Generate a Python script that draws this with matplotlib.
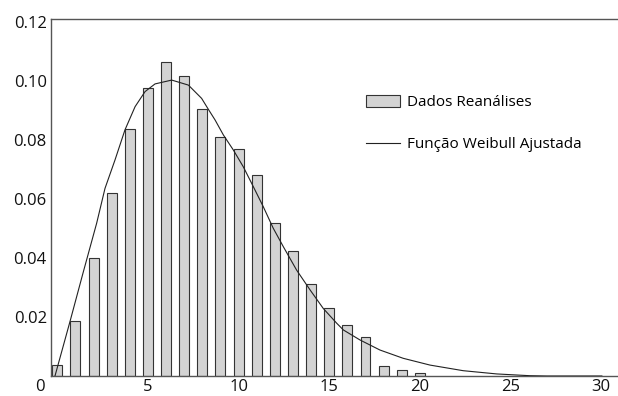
import numpy as np
import matplotlib
matplotlib.use('Agg')
import matplotlib.pyplot as plt
from matplotlib.transforms import ScaledTranslation

plt.rcParams['font.family'] = ['Open Sans', 'DejaVu Sans']

# histograma (dados de reanálise)
classes = np.arange(0, 21)
freq = [0.0037, 0.0186, 0.0400, 0.0620, 0.0836, 0.0975, 0.1065, 0.1017,
        0.0905, 0.0809, 0.0768, 0.0681, 0.0518, 0.0425, 0.0311, 0.0229,
        0.0174, 0.0132, 0.0035, 0.0020, 0.0010]

# curva Weibull ajustada
curva_x = [-0.13, 0.70, 1.43, 2.17, 2.63, 3.18, 3.73, 4.29, 4.84, 5.39,
           6.31, 7.23, 7.96, 8.33, 8.70, 9.16, 9.71, 10.26, 10.81, 11.36,
           11.91, 12.47, 13.20, 13.94, 14.67, 15.41, 15.78, 16.70, 17.80,
           19.08, 20.56, 22.39, 24.24, 26.07, 27.00, 30.04]
curva_y = [0.0, 0.0185, 0.0352, 0.0518, 0.0636, 0.0732, 0.0834, 0.0913,
           0.0964, 0.0990, 0.1003, 0.0986, 0.0941, 0.0904, 0.0868, 0.0817,
           0.0766, 0.0709, 0.0642, 0.0574, 0.0501, 0.0438, 0.0359, 0.0292,
           0.0229, 0.0179, 0.0156, 0.0122, 0.0088, 0.0060, 0.0037, 0.0018,
           0.0007, 0.0001, 0.0, 0.0]

fig = plt.figure(figsize=(6.18, 3.96), dpi=100)
ax = fig.add_axes([0.0825, 0.0505, 0.9175, 0.9015])

barras = ax.bar(classes, freq, width=0.55, color='#d3d3d3', edgecolor='#333333',
                linewidth=0.8, label='Dados Reanálises', zorder=2)
linha, = ax.plot(curva_x, curva_y, color='#222222', linewidth=0.8,
                 solid_joinstyle='round', label='Função Weibull Ajustada', zorder=3)

ax.set_xlim(-0.35, 30.93)
ax.set_ylim(0, 0.121)
ax.set_xticks([0, 5, 10, 15, 20, 25, 30])
ax.set_yticks([0.02, 0.04, 0.06, 0.08, 0.10, 0.12])
ax.set_yticklabels(['0.02', '0.04', '0.06', '0.08', '0.10', '0.12'])
ax.tick_params(length=0, labelsize=12, colors='#111111')
ax.tick_params(axis='x', pad=2)
ax.tick_params(axis='y', pad=3)

# o "0" fica deslocado para a esquerda no original
lbl0 = ax.get_xticklabels()[0]
lbl0.set_transform(lbl0.get_transform() + ScaledTranslation(-0.17, 0, fig.dpi_scale_trans))

for s in ['left', 'bottom', 'top']:
    ax.spines[s].set_color('#555555')
    ax.spines[s].set_linewidth(1.0)
ax.spines['right'].set_visible(False)

ax.legend([barras, linha], ['Dados Reanálises', 'Função Weibull Ajustada'],
          loc='upper left', bbox_to_anchor=(366 / 618, 1 - 95 / 396),
          bbox_transform=fig.transFigure, frameon=False, fontsize=11,
          handlelength=2.2, handleheight=0.85, handletextpad=0.5,
          labelspacing=1.75, borderpad=0, borderaxespad=0)

fig.savefig('out.png', dpi=100)
